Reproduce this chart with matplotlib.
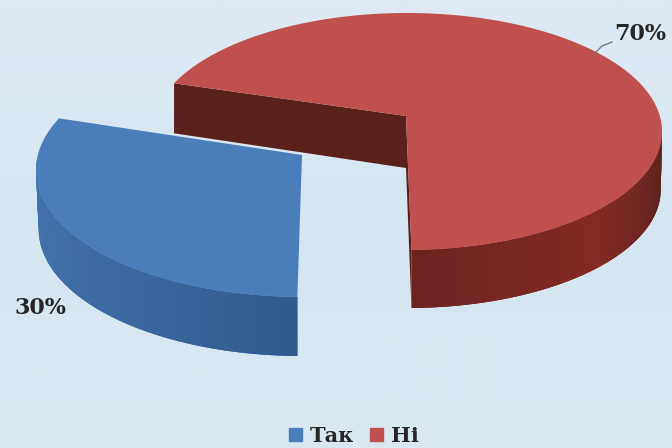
import numpy as np
import matplotlib
matplotlib.use("Agg")
import matplotlib.pyplot as plt
from matplotlib.colors import LinearSegmentedColormap, to_rgb
from matplotlib.patches import Patch

categories = ["Так", "Ні"]
values = [30, 70]
labels = ["30%", "70%"]

START = 156.0      # where the first slice starts (ellipse angle)
TILT = 5.0         # foreshortening of the split angle
DEPTH = 58
BLUE = dict(c=(302, 170), apex=(302, 155), a=266, b=127)
RED = dict(c=(407, 131.5), apex=(406, 116), a=255, b=118.5)

fig = plt.figure(figsize=(6.72, 4.48), dpi=100)
ax = fig.add_axes([0, 0, 1, 1])
ax.set_xlim(0, 672)
ax.set_ylim(448, 0)
ax.axis("off")

bg = LinearSegmentedColormap.from_list("bg", ["#dfeaf4", "#d5e6f1", "#dae8f1"])
ax.imshow(np.linspace(0, 1, 256)[:, None], extent=(0, 672, 448, 0), cmap=bg, aspect="auto", zorder=0)


def pt(g, t, depth=0, shrink=1.0):
    t = np.radians(t)
    return g["c"][0] + g["a"] * shrink * np.cos(t), g["c"][1] - g["b"] * np.sin(t) + depth


def mix(c1, c2, f):
    a, b = np.array(to_rgb(c1)), np.array(to_rgb(c2))
    return tuple(a + (b - a) * f)


split = START + values[0] / sum(values) * 360 + TILT
blue_t = np.linspace(START, split, 160)
red_t = np.linspace(split + 2, START + 360, 400)

# blue outer wall
vis = blue_t[blue_t >= 175]
for t0, t1 in zip(vis[:-1], vis[1:]):
    f = (t0 - vis[0]) / (vis[-1] - vis[0])
    col = mix("#4272ad", "#2f5a8e", f ** 1.5)
    x0, y0 = pt(BLUE, t0)
    x1, y1 = pt(BLUE, min(t1 + 1.0, vis[-1]))
    x2, y2 = pt(BLUE, min(t1 + 1.0, vis[-1]), DEPTH + 1, 0.99)
    x3, y3 = pt(BLUE, t0, DEPTH + 1, 0.99)
    ax.fill([x0, x1, x2, x3], [y0, y1, y2, y3], color=col, lw=0, zorder=2)

# blue top
bx, by = pt(BLUE, blue_t)
ax.fill(np.r_[BLUE["apex"][0], bx], np.r_[BLUE["apex"][1], by], color="#4a7ebb", lw=0, zorder=3)

# red inner walls
rsx, rsy = pt(RED, red_t[-1])
ax.fill([RED["apex"][0], rsx, rsx, RED["apex"][0]],
        [RED["apex"][1], rsy, rsy + DEPTH - 8, RED["apex"][1] + 52], color="#5a201b", lw=0, zorder=2)
rex, rey = pt(RED, red_t[0])
ax.fill([RED["apex"][0], rex, rex, RED["apex"][0]],
        [RED["apex"][1], rey, rey + DEPTH, RED["apex"][1] + 52], color="#5c1f1b", lw=0, zorder=2)

# red outer wall
vis = red_t[red_t <= 362]
for t0, t1 in zip(vis[:-1], vis[1:]):
    f = (t0 - vis[0]) / (vis[-1] - vis[0])
    if f < 0.5:
        col = mix("#6c2320", "#842a26", f / 0.5)
    else:
        col = mix("#842a26", "#54201b", (f - 0.5) / 0.5)
    x0, y0 = pt(RED, t0)
    x1, y1 = pt(RED, min(t1 + 1.0, vis[-1]))
    x2, y2 = pt(RED, min(t1 + 1.0, vis[-1]), DEPTH, 0.995)
    x3, y3 = pt(RED, t0, DEPTH, 0.995)
    ax.fill([x0, x1, x2, x3], [y0, y1, y2, y3], color=col, lw=0, zorder=2)

# red top
rx, ry = pt(RED, red_t)
ax.fill(np.r_[RED["apex"][0], rx], np.r_[RED["apex"][1], ry], color="#c0504d", lw=0, zorder=3)

font = dict(family="DejaVu Serif", weight="bold", color="#262626")
ax.text(40, 308, labels[0], fontsize=16, ha="center", va="center", zorder=5, **font)
ax.text(640, 34, labels[1], fontsize=16, ha="center", va="center", zorder=5, **font)
ax.plot([595, 602, 612], [53, 46, 42], color="#6d7f8a", lw=1, zorder=5)

handles = [Patch(color="#4a7ebb"), Patch(color="#c0504d")]
leg = ax.legend(handles, categories, loc="center", bbox_to_anchor=(354 / 672, 1 - 436 / 448),
                ncol=2, frameon=False, handlelength=0.62, handleheight=0.62, handletextpad=0.4,
                columnspacing=0.75, borderpad=0,
                prop=dict(family="DejaVu Serif", weight="bold", size=15))
for t in leg.get_texts():
    t.set_color("#262626")

fig.savefig("out.png", dpi=100)
